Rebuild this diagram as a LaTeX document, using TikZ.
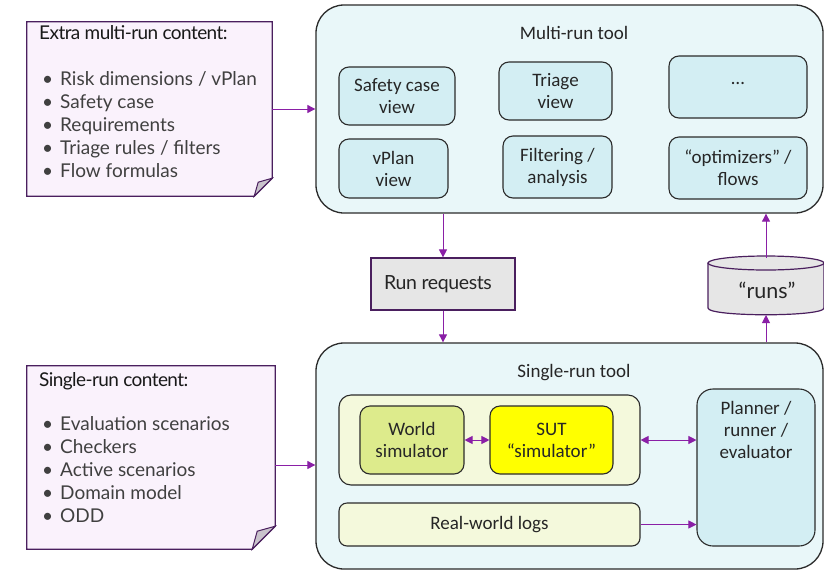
\documentclass[tikz,border=0pt]{standalone}
\usepackage{fontspec}
\setmainfont{Carlito}
\newfontfamily\notefont{Lato}
\usetikzlibrary{arrows.meta}

\definecolor{toolfill}{HTML}{E9F7F9}
\definecolor{subfill}{HTML}{D3EEF3}
\definecolor{simfill}{HTML}{F4F9DC}
\definecolor{worldfill}{HTML}{DDEB8C}
\definecolor{sutfill}{HTML}{FFFF00}
\definecolor{notefill}{HTML}{FAF2FC}
\definecolor{noteline}{HTML}{4A1F5E}
\definecolor{flow}{HTML}{8A1FA6}
\definecolor{storefill}{HTML}{E6E6E6}
\definecolor{edgeline}{HTML}{2B2B2B}
\definecolor{foldfill}{HTML}{C9C3CC}
\definecolor{notetext}{HTML}{404040}

\tikzset{
  toolbox/.style={draw=edgeline, line width=1.3pt, fill=toolfill, rounded corners=28pt},
  subbox/.style={draw=edgeline, line width=1.1pt, fill=subfill, rounded corners=10pt,
    align=center, text=black!85, font=\fontsize{19}{22}\selectfont},
  simbox/.style={draw=edgeline, line width=1.1pt, fill=simfill, rounded corners=12pt,
    align=center, text=black!85, font=\fontsize{19}{22}\selectfont},
  titletext/.style={text=black!85, font=\fontsize{19}{22}\selectfont},
  notearea/.style={inner sep=0pt},
  noteshape/.style={draw=noteline, line width=1.3pt, fill=notefill},
  notetxt/.style={anchor=north west, align=left, inner sep=0pt, text=notetext,
    font=\notefont\fontsize{19}{23}\selectfont},
  storebox/.style={draw=noteline, line width=1.2pt, fill=storefill},
  flowarrow/.style={draw=flow, line width=0.9pt, -{Triangle[length=8pt,width=8pt]}},
  flowboth/.style={draw=flow, line width=0.9pt,
    {Triangle[length=8pt,width=8pt]}-{Triangle[length=8pt,width=8pt]}},
}

\newcommand{\bl}[1]{\makebox[21pt][l]{\hspace{3pt}\textbullet}#1}

\begin{document}
\begin{tikzpicture}[x=1pt,y=-1pt]
\useasboundingbox (0,0) rectangle (824,571);
\clip (0,0) rectangle (824,571);
\fill[white] (0,0) rectangle (824,571);

% ---------- multi-run tool ----------
\node[toolbox, minimum width=507pt, minimum height=208pt] (multi) at (569.5,109) {};
\node[titletext] (multititle) at (574,33) {Multi-run tool};

\node[subbox, minimum width=116pt, minimum height=58pt] (safety) at (397,96) {Safety case\\view};
\node[subbox, minimum width=113pt, minimum height=58pt] (triage) at (555.5,91) {Triage\\view};
\node[subbox, minimum width=138pt, minimum height=62pt] (more) at (738,87) {\raisebox{8pt}{\dots}};
\node[subbox, minimum width=109pt, minimum height=59pt] (vplan) at (393.5,168.5) {vPlan\\view};
\node[subbox, minimum width=109pt, minimum height=62pt] (filter) at (557.5,167) {Filtering /\\analysis};
\node[subbox, minimum width=138pt, minimum height=62pt] (optim) at (738,168) {“optimizers” /\\flows};

% ---------- single-run tool ----------
\node[toolbox, minimum width=507pt, minimum height=226pt] (single) at (569.5,456) {};
\node[titletext] (singletitle) at (574,373) {Single-run tool};

\node[simbox, minimum width=301pt, minimum height=90pt] (sims) at (489.5,440) {};
\node[simbox, fill=worldfill, rounded corners=10pt, minimum width=104pt, minimum height=68pt] (world) at (412,440) {World\\simulator};
\node[simbox, fill=sutfill, rounded corners=10pt, minimum width=123pt, minimum height=68pt] (sut) at (551.5,440) {SUT\\“simulator”};
\node[simbox, rounded corners=8pt, minimum width=301pt, minimum height=43pt] (logs) at (489.5,524.5) {Real-world logs};
\node[subbox, rounded corners=16pt, minimum width=118pt, minimum height=157pt] (planner) at (756,467.5) {};
\node[titletext, align=center, anchor=north] (plannerlabel) at ([yshift=-9pt]planner.north) {Planner /\\runner /\\evaluator};

% ---------- run requests ----------
\node[storebox, minimum width=144pt, minimum height=52pt, inner sep=0pt] (runreq) at (443,284) {};
\node[text=black!85, font=\notefont\fontsize{19.5}{22}\selectfont] (runreqlabel) at (438,284) {\addfontfeatures{LetterSpace=-2}Run requests};

% ---------- runs store ----------
\node[minimum width=116pt, minimum height=57pt, inner sep=0pt] (runs) at (766,286.5) {};
\coordinate (runstop) at (766,258);
\coordinate (runsbot) at (766,315);
\fill[storefill] (708,263) rectangle (824,308);
\fill[storefill] (766,308) ellipse [x radius=58, y radius=7];
\draw[storebox] (708,263) -- (708,308) .. controls (708,317) and (824,317) .. (824,308) -- (824,263);
\draw[storebox] (766,263) ellipse [x radius=58, y radius=7];
\node[text=black!85, font=\notefont\fontsize{21.5}{24}\selectfont] (runslabel) at (767,290) {“runs”};

% ---------- content notes ----------
\node[notearea, minimum width=245pt, minimum height=174pt] (note1) at (149.5,109) {};
\draw[noteshape] (note1.north west) -- (note1.north east) -- ([yshift=18pt]note1.south east)
  -- ([xshift=-18pt]note1.south east) -- (note1.south west) -- cycle;
\draw[noteshape, fill=foldfill, line width=1pt] ([xshift=-18pt]note1.south east)
  -- ([xshift=-14pt,yshift=14pt]note1.south east) -- ([yshift=18pt]note1.south east) -- cycle;
\node[notetxt] (note1text) at (39,25) {{\color{black!90}\addfontfeatures{LetterSpace=-3}Extra multi-run content:}\\[23pt]
  \bl{Risk dimensions / vPlan}\\
  \bl{Safety case}\\
  \bl{Requirements}\\
  \bl{Triage rules / filters}\\
  \bl{Flow formulas}};

\node[notearea, minimum width=248pt, minimum height=183pt] (note2) at (151,457.5) {};
\draw[noteshape] (note2.north west) -- (note2.north east) -- ([yshift=23pt]note2.south east)
  -- ([xshift=-23pt]note2.south east) -- (note2.south west) -- cycle;
\draw[noteshape, fill=foldfill, line width=1pt] ([xshift=-23pt]note2.south east)
  -- ([xshift=-18pt,yshift=18pt]note2.south east) -- ([yshift=23pt]note2.south east) -- cycle;
\node[notetxt] (note2text) at (39,372) {{\color{black!90}\addfontfeatures{LetterSpace=-3}Single-run content:}\\[21pt]
  \bl{Evaluation scenarios}\\
  \bl{Checkers}\\
  \bl{Active scenarios}\\
  \bl{Domain model}\\
  \bl{ODD}};

% ---------- connectors ----------
\draw[flowarrow] (note1.east) -- (note1.east -| multi.west);
\coordinate (n2out) at ([yshift=-7.5pt]note2.east);
\draw[flowarrow] (n2out) -- (n2out -| single.west);
\draw[flowarrow] (runreq.north |- multi.south) -- (runreq.north);
\draw[flowarrow] (runreq.south) -- (runreq.south |- single.north);
\draw[flowarrow] (runstop) -- (runstop |- multi.south);
\draw[flowarrow] (runsbot |- single.north) -- (runsbot);
\draw[flowboth] (world.east) -- (sut.west);
\draw[flowboth] (sims.east) -- (sims.east -| planner.west);
\draw[flowarrow] (logs.east) -- (logs.east -| planner.west);
\end{tikzpicture}
\end{document}
